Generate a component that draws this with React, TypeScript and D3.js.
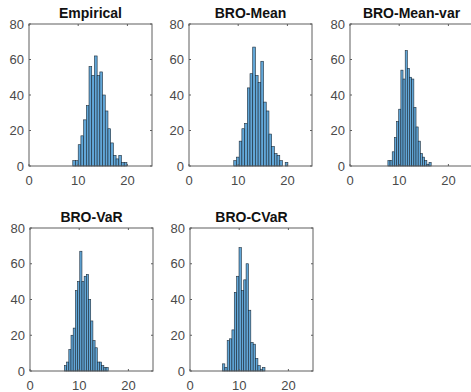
import React, { useEffect, useRef } from 'react';
import * as d3 from 'd3';

// histogram counts, one array per method
const titles = ['Empirical', 'BRO-Mean', 'BRO-Mean-var', 'BRO-VaR', 'BRO-CVaR'];
const empirical = [3, 3, 12, 17, 26, 34, 56, 51, 62, 51, 53, 40, 31, 21, 13, 6, 4, 6, 2, 2];
const broMean = [3, 5, 14, 21, 24, 44, 52, 67, 51, 47, 59, 36, 31, 18, 11, 7, 6, 3, 0, 2];
const broMeanVar = [3, 3, 8, 16, 25, 32, 54, 49, 65, 55, 50, 49, 33, 22, 14, 7, 5, 3, 1, 2];
const broVaR = [3, 5, 12, 20, 24, 45, 50, 67, 50, 53, 54, 40, 28, 17, 13, 5, 5, 3, 2, 2];
const broCVaR = [4, 2, 17, 18, 23, 44, 53, 69, 45, 51, 60, 34, 16, 15, 7, 3, 1, 2];
const series = [empirical, broMean, broMeanVar, broVaR, broCVaR];

// left edge of first bin and bin width for each histogram
const binStarts = [8.9, 9.1, 7.7, 7.0, 6.6];
const binWidths = [0.55, 0.55, 0.44, 0.445, 0.48];

const xDomain: [number, number] = [0, 25];
const yDomain: [number, number] = [0, 80];
const xTicks = [0, 10, 20];
const yTicks = [0, 20, 40, 60, 80];

const W = 471;
const H = 392;

const App: React.FC = () => {
  const svgRef = useRef<SVGSVGElement>(null);

  useEffect(() => {
    if (!svgRef.current) return;
    const root = d3.select(svgRef.current);
    root.selectAll('*').remove();

    // axes boxes for the subplot grid
    const boxes = [
      { left: 29, top: 24, bottom: 166 },
      { left: 189, top: 24, bottom: 166 },
      { left: 350, top: 24, bottom: 166 },
      { left: 30, top: 228, bottom: 371 },
      { left: 190, top: 228, bottom: 371 }
    ];
    const boxW = 123;
    const font = 'Liberation Sans, Arial, sans-serif';

    series.forEach((counts, k) => {
      const b = boxes[k];
      const x = d3.scaleLinear().domain(xDomain).range([b.left, b.left + boxW]);
      const y = d3.scaleLinear().domain(yDomain).range([b.bottom, b.top]);
      const g = root.append('g');

      // bars
      const bw = x(binWidths[k]) - x(0);
      const bins = counts.map((c, i) => ({ x0: binStarts[k] + i * binWidths[k], c }));
      g.selectAll('rect.bar')
        .data(bins.filter(d => d.c > 0))
        .enter()
        .append('rect')
        .attr('class', 'bar')
        .attr('x', d => x(d.x0))
        .attr('y', d => y(d.c))
        .attr('width', bw)
        .attr('height', d => y(0) - y(d.c))
        .attr('fill', '#62a7d8')
        .attr('stroke', '#1c2b38')
        .attr('stroke-width', 0.6);

      // box
      g.append('rect')
        .attr('x', x(xDomain[0]))
        .attr('y', y(yDomain[1]))
        .attr('width', x(xDomain[1]) - x(xDomain[0]))
        .attr('height', y(yDomain[0]) - y(yDomain[1]))
        .attr('fill', 'none')
        .attr('stroke', '#5e5e5e')
        .attr('stroke-width', 1);

      // inward ticks on all four sides
      xTicks.forEach(t => {
        g.append('line')
          .attr('x1', x(t)).attr('x2', x(t))
          .attr('y1', y(0)).attr('y2', y(0) - 2)
          .attr('stroke', '#5e5e5e');
        g.append('line')
          .attr('x1', x(t)).attr('x2', x(t))
          .attr('y1', y(80)).attr('y2', y(80) + 2)
          .attr('stroke', '#5e5e5e');
      });
      yTicks.forEach(t => {
        g.append('line')
          .attr('x1', x(0)).attr('x2', x(0) + 2)
          .attr('y1', y(t)).attr('y2', y(t))
          .attr('stroke', '#5e5e5e');
        g.append('line')
          .attr('x1', x(25)).attr('x2', x(25) - 2)
          .attr('y1', y(t)).attr('y2', y(t))
          .attr('stroke', '#5e5e5e');
      });

      // tick labels
      g.selectAll('text.xt')
        .data(xTicks)
        .enter()
        .append('text')
        .attr('class', 'xt')
        .attr('x', d => x(d))
        .attr('y', y(0) + 19)
        .attr('text-anchor', 'middle')
        .attr('font-family', font)
        .attr('font-size', 13)
        .attr('fill', '#4a4a4a')
        .text(d => d);

      g.selectAll('text.yt')
        .data(yTicks)
        .enter()
        .append('text')
        .attr('class', 'yt')
        .attr('x', x(0) - 5)
        .attr('y', d => y(d) + 4.5)
        .attr('text-anchor', 'end')
        .attr('font-family', font)
        .attr('font-size', 13)
        .attr('fill', '#4a4a4a')
        .text(d => d);

      // title
      g.append('text')
        .attr('x', (x(0) + x(25)) / 2)
        .attr('y', b.top - 6)
        .attr('text-anchor', 'middle')
        .attr('font-family', font)
        .attr('font-size', 14)
        .attr('font-weight', 'bold')
        .attr('fill', '#111')
        .text(titles[k]);
    });
  }, []);

  return (
    <svg
      ref={svgRef}
      width={W}
      height={H}
      style={{ position: 'absolute', left: 0, top: 0, background: '#fff' }}
    />
  );
};

export default App;
